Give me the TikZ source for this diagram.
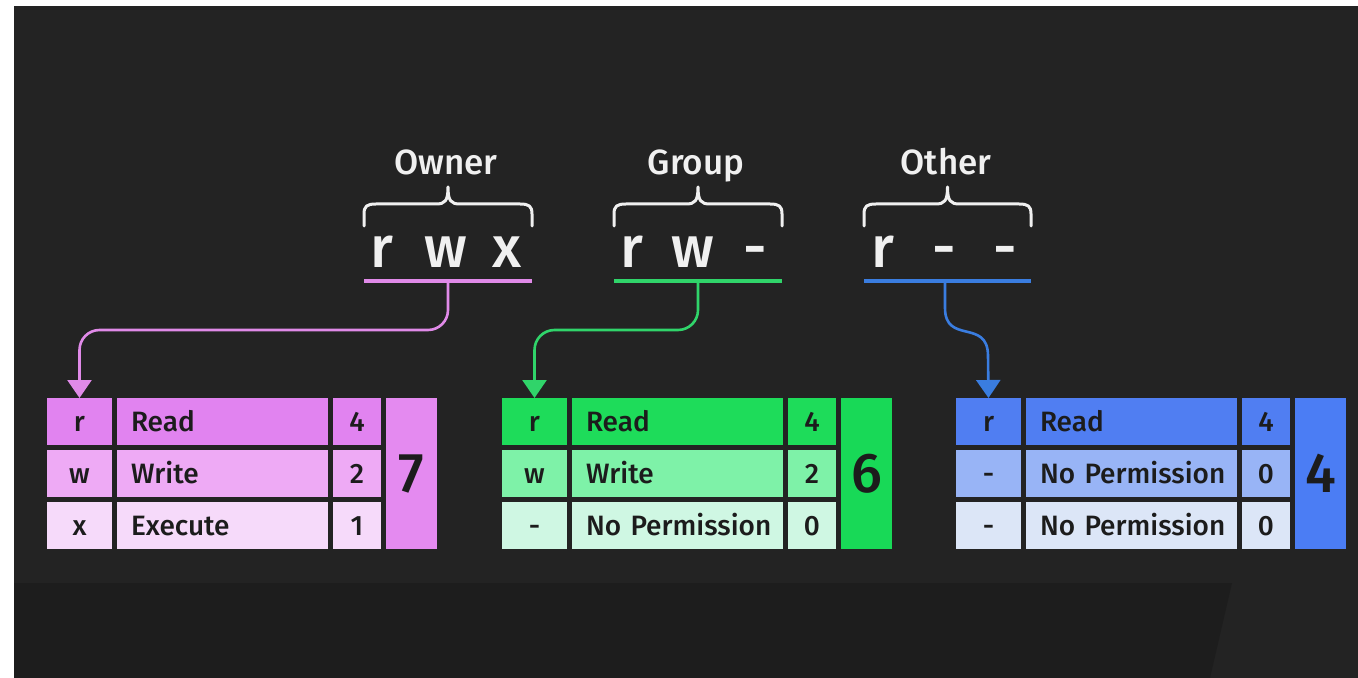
\documentclass[tikz,border=0pt]{standalone}
\usepackage{fontspec}
\setmainfont{Fira Sans Medium}
\usetikzlibrary{arrows.meta,calc}
\definecolor{bg}{HTML}{232323}
\definecolor{bgdark}{HTML}{1D1D1D}
\definecolor{ink}{HTML}{1C1C1C}
\definecolor{light}{HTML}{F0F0F0}
\definecolor{pinkA}{HTML}{E183F0}
\definecolor{pinkB}{HTML}{EEAAF5}
\definecolor{pinkC}{HTML}{F6DAFA}
\definecolor{pinkT}{HTML}{E48AF0}
\definecolor{pinkL}{HTML}{E08AE8}
\definecolor{greenA}{HTML}{1EDC5A}
\definecolor{greenB}{HTML}{7EF2A8}
\definecolor{greenC}{HTML}{CFF7E3}
\definecolor{greenT}{HTML}{18D957}
\definecolor{greenL}{HTML}{30D46A}
\definecolor{blueA}{HTML}{507EF2}
\definecolor{blueB}{HTML}{98B4F6}
\definecolor{blueC}{HTML}{DCE6F7}
\definecolor{blueT}{HTML}{4B7DF4}
\definecolor{blueL}{HTML}{3A7DE0}
\tikzset{
  cellbox/.style={inner sep=0pt, outer sep=0pt, anchor=north west, minimum height=23.5pt,
    text=ink, font=\fontsize{14}{14}\selectfont, text height=9.5pt, text depth=0pt},
  lettercell/.style={cellbox, minimum width=32.5pt, align=center},
  wordcell/.style={cellbox, minimum width=105.5pt, inner xsep=7pt, text width=91.5pt, align=left},
  numcell/.style={cellbox, minimum width=24pt, align=center},
  totcell/.style={cellbox, minimum width=25.5pt, minimum height=75.5pt,
    font=\fontsize{28}{28}\selectfont, text height=19pt},
  bit/.style={text=light, font=\fontsize{29}{29}\selectfont, anchor=base, inner sep=0pt},
  heading/.style={text=light, font=\fontsize{17.5}{17.5}\selectfont, anchor=base, inner sep=0pt},
  bracestroke/.style={draw=light, line width=1.5pt, line cap=round, line join=round},
  bar/.style={line width=1.6pt},
  conn/.style={line width=1.3pt, rounded corners=10pt, -{Triangle[width=12pt,length=9pt]}},
}
\newcommand\permrow[7]{%
  \node[lettercell, fill=#4] (#1l) at (#2,#3) {#5};
  \node[wordcell, fill=#4] (#1w) at ({#2+70},#3) {\mbox{#6}};
  \node[numcell, fill=#4] (#1n) at ({#2+286},#3) {#7};
}
\newcommand\bracetop[2]{%
  \draw[bracestroke] (#1,226) -- (#1,214) .. controls (#1,206) and ({#1+3},204) .. ({#1+12},204)
    -- ({(#1+#2)/2-12},204) .. controls ({(#1+#2)/2-3},204) and ({(#1+#2)/2},201) .. ({(#1+#2)/2},187)
    .. controls ({(#1+#2)/2},201) and ({(#1+#2)/2+3},204) .. ({(#1+#2)/2+12},204)
    -- ({#2-12},204) .. controls ({#2-3},204) and (#2,206) .. (#2,214) -- (#2,226);
}
\begin{document}
\begin{tikzpicture}[x=0.5pt,y=-0.5pt]
\useasboundingbox (0,0) rectangle (1358,678);
\fill[white] (0,0) rectangle (1358,678);
\fill[bg] (14,6) rectangle (1358,678);
\fill[bgdark] (14,583) -- (1232,583) -- (1210,678) -- (14,678) -- cycle;

% headings and braces
\node[heading] (owner) at (446,175) {Owner};
\node[heading] (group) at (696,175) {Group};
\node[heading] (other) at (946,175) {Other};
\bracetop{364}{532}
\bracetop{614}{782}
\bracetop{864}{1031}

% permission letters
\node[bit] (ob1) at (382,268) {r};
\node[bit] (ob2) at (446,268) {w};
\node[bit] (ob3) at (507,268) {x};
\node[bit] (gb1) at (632,268) {r};
\node[bit] (gb2) at (693,268) {w};
\node[bit] (gb3) at (755,268) {-};
\node[bit] (xb1) at (883,268) {r};
\node[bit] (xb2) at (944,268) {-};
\node[bit] (xb3) at (1005,268) {-};

% underlines
\draw[bar, draw=pinkL] (364,281) -- (532,281);
\draw[bar, draw=greenL] (614,281) -- (782,281);
\draw[bar, draw=blueL] (864,281) -- (1031,281);
\coordinate (ownbar) at (448,281);
\coordinate (grpbar) at (698,281);
\coordinate (othbar) at (945,281);

% owner table
\permrow{o1}{47}{398}{pinkA}{r}{Read}{4}
\permrow{o2}{47}{450}{pinkB}{w}{Write}{2}
\permrow{o3}{47}{502}{pinkC}{x}{Execute}{1}
\node[totcell, fill=pinkT] (otot) at (386,398) {7};

% group table
\permrow{g1}{502}{398}{greenA}{r}{Read}{4}
\permrow{g2}{502}{450}{greenB}{w}{Write}{2}
\permrow{g3}{502}{502}{greenC}{-}{No Permission}{0}
\node[totcell, fill=greenT] (gtot) at (841,398) {6};

% other table
\permrow{x1}{956}{398}{blueA}{r}{Read}{4}
\permrow{x2}{956}{450}{blueB}{-}{No Permission}{0}
\permrow{x3}{956}{502}{blueC}{-}{No Permission}{0}
\node[totcell, fill=blueT] (xtot) at (1295,398) {4};

% connectors
\draw[conn, draw=pinkL] (ownbar) -- (448,330) -- (o1l.north |- 0,330) -- (o1l.north);
\draw[conn, draw=greenL] (grpbar) -- (698,330) -- (g1l.north |- 0,330) -- (g1l.north);
\draw[line width=1.3pt, draw=blueL, -{Triangle[width=12pt,length=9pt]}]
  (othbar) -- (945,308) .. controls (945,345) and (988,318) .. (988,356) -- (x1l.north);
\end{tikzpicture}
\end{document}
